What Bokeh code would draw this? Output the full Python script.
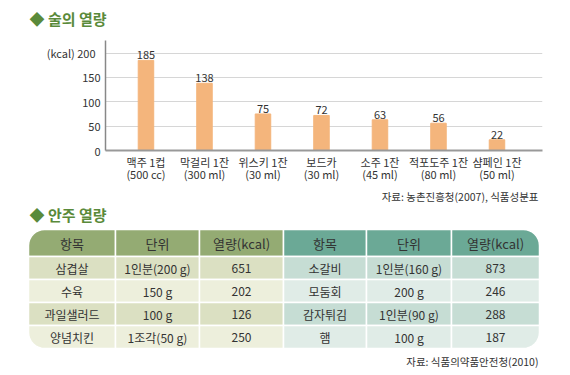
import math
from bokeh.plotting import figure
from bokeh.models import Range1d, FixedTicker
from bokeh.layouts import column
from bokeh.embed import file_html
from bokeh.resources import INLINE
from bokeh.core.properties import value

FONT = "Noto Sans CJK KR"

# ---------------- data ----------------
chart_title = "◆ 술의 열량"
drinks = ["맥주 1컵", "막걸리 1잔", "위스키 1잔", "보드카", "소주 1잔", "적포도주 1잔", "샴페인 1잔"]
portions = ["(500 cc)", "(300 ml)", "(30 ml)", "(30 ml)", "(45 ml)", "(80 ml)", "(50 ml)"]
kcal = [185, 138, 75, 72, 63, 56, 22]
y_ticks = [0, 50, 100, 150, 200]
y_unit = "(kcal)"
chart_source = "자료: 농촌진흥청(2007), 식품성분표"

table_title = "◆ 안주 열량"
table_header = ["항목", "단위", "열량(kcal)"]
left_items = ["삼겹살", "수육", "과일샐러드", "양념치킨"]
left_units = ["1인분(200 g)", "150 g", "100 g", "1조각(50 g)"]
left_kcal = [651, 202, 126, 250]
right_items = ["소갈비", "모둠회", "감자튀김", "햄"]
right_units = ["1인분(160 g)", "200 g", "1인분(90 g)", "100 g"]
right_kcal = [873, 246, 288, 187]
table_source = "자료: 식품의약품안전청(2010)"

# ---------------- styles ----------------
GREEN = "#5a8a3a"
BAR = "#f4b57c"
TXT = "#333333"
L_HEAD, L_DARK, L_LIGHT = "#94ab73", "#dbe0c2", "#edefdc"
R_HEAD, R_DARK, R_LIGHT = "#6ba996", "#c6ddd4", "#e0ece7"
W = 568


def blank(height, y0, y1):
    f = figure(width=W, height=height, x_range=Range1d(0, W), y_range=Range1d(y1, y0),
               x_axis_type=None, y_axis_type=None, output_backend="svg",
               toolbar_location=None, min_border=0, frame_align=False)
    f.grid.visible = False
    f.outline_line_color = None
    f.background_fill_color = "white"
    f.border_fill_color = "white"
    return f


# ---------------- title ----------------
f0 = blank(40, 0, 40)
f0.text(x=[29], y=[18], text=[chart_title], text_font=value(FONT), text_font_size="15px",
        text_color=GREEN, text_baseline="middle", text_font_style="bold")

# ---------------- bar chart ----------------
n = len(kcal)
f1 = figure(width=W, height=148, x_range=Range1d(-0.692, n - 1 + 0.778),
            y_range=Range1d(0, 225.8), output_backend="svg", toolbar_location=None,
            min_border_left=105, min_border_right=W - 542, min_border_top=0,
            min_border_bottom=38, frame_align=False)
f1.outline_line_color = None
f1.vbar(x=list(range(n)), top=kcal, width=0.265, color=BAR)
f1.text(x=list(range(n)), y=kcal, text=[str(v) for v in kcal], text_font=value(FONT),
        text_font_size="11px", text_color=TXT, text_align="center", text_baseline="bottom",
        y_offset=-1)

xa = f1.xaxis[0]
xa.ticker = FixedTicker(ticks=list(range(n)))
xa.major_label_overrides = {i: f"{d}\n{p}" for i, (d, p) in enumerate(zip(drinks, portions))}
xa.axis_line_color = "#999999"
xa.axis_line_width = 2
xa.major_tick_in = 0
xa.major_tick_out = 0
xa.minor_tick_line_color = None
xa.major_label_text_font = FONT
xa.major_label_text_font_size = "11px"
xa.major_label_text_color = TXT
xa.major_label_text_line_height = 0.75
xa.major_label_standoff = 3

ya = f1.yaxis[0]
ya.ticker = FixedTicker(ticks=y_ticks)
ya.major_label_overrides = {y_ticks[-1]: f"{y_unit}   {y_ticks[-1]}"}
ya.axis_line_color = "#888888"
ya.axis_line_width = 1.5
ya.major_tick_in = 0
ya.major_tick_out = 0
ya.minor_tick_line_color = None
ya.major_label_text_font = FONT
ya.major_label_text_font_size = "11px"
ya.major_label_text_color = TXT
ya.major_label_standoff = 5

f1.xgrid.visible = False
f1.ygrid.ticker = FixedTicker(ticks=y_ticks)
f1.ygrid.grid_line_color = "#d6d6d6"

# ---------------- table ----------------
f2 = blank(186, 188, 374)
f2.text(x=[538], y=[196], text=[chart_source], text_font=value(FONT), text_font_size="10.5px",
        text_color=TXT, text_align="right", text_baseline="middle")
f2.text(x=[29], y=[214], text=[table_title], text_font=value(FONT), text_font_size="15px",
        text_color=GREEN, text_baseline="middle", text_font_style="bold")
f2.text(x=[538], y=[361], text=[table_source], text_font=value(FONT), text_font_size="10.5px",
        text_color=TXT, text_align="right", text_baseline="middle")

xe = [28, 115, 199, 283, 366, 451, 539]
ye = [229, 256, 279, 302, 325, 348]
R = 16


def poly(x0, x1, y0, y1, tl=0, tr=0, br=0, bl=0):
    xs, ys = [], []

    def arc(cx, cy, r, a0, a1):
        for k in range(9):
            a = math.radians(a0 + (a1 - a0) * k / 8)
            xs.append(cx + r * math.cos(a))
            ys.append(cy + r * math.sin(a))

    if tl:
        arc(x0 + tl, y0 + tl, tl, 180, 270)
    else:
        xs.append(x0); ys.append(y0)
    if tr:
        arc(x1 - tr, y0 + tr, tr, 270, 360)
    else:
        xs.append(x1); ys.append(y0)
    if br:
        arc(x1 - br, y1 - br, br, 0, 90)
    else:
        xs.append(x1); ys.append(y1)
    if bl:
        arc(x0 + bl, y1 - bl, bl, 90, 180)
    else:
        xs.append(x0); ys.append(y1)
    return xs, ys


pxs, pys, cols = [], [], []
tx, ty, tt, tsz = [], [], [], []
sides = [(0, L_HEAD, L_DARK, L_LIGHT, left_items, left_units, left_kcal),
         (3, R_HEAD, R_DARK, R_LIGHT, right_items, right_units, right_kcal)]
nrows = len(left_items)
for off, head, dark, light, items, units, vals in sides:
    rows = [table_header] + [[a, b, str(c)] for a, b, c in zip(items, units, vals)]
    for r, row in enumerate(rows):
        for c, label in enumerate(row):
            ci = off + c
            x0, x1 = xe[ci], xe[ci + 1]
            y0, y1 = ye[r], ye[r + 1]
            tl = R if (ci == 0 and r == 0) else 0
            bl = R if (ci == 0 and r == nrows) else 0
            tr = R if (ci == 5 and r == 0) else 0
            br = R if (ci == 5 and r == nrows) else 0
            xs, ys = poly(x0, x1, y0, y1, tl, tr, br, bl)
            pxs.append(xs); pys.append(ys)
            cols.append(head if r == 0 else (dark if r % 2 == 1 else light))
            tx.append((x0 + x1) / 2); ty.append((y0 + y1) / 2 + 0.5)
            tt.append(label); tsz.append("13px" if r == 0 else "12px")

f2.patches(pxs, pys, fill_color=cols, line_color="white", line_width=1.5)
f2.text(x=tx, y=ty, text=tt, text_font=value(FONT), text_font_size=tsz, text_color=TXT,
        text_align="center", text_baseline="middle")

layout = column(f0, f1, f2, spacing=0)
open("out.html", "w").write(file_html(layout, INLINE))
